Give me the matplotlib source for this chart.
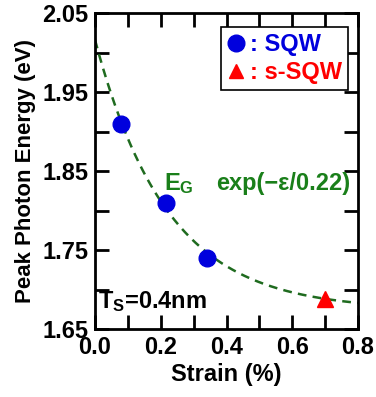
import numpy as np
import matplotlib
matplotlib.use("Agg")
import matplotlib.pyplot as plt
from matplotlib.lines import Line2D

plt.rcParams['font.family'] = ['Liberation Sans', 'DejaVu Sans']
plt.rcParams['font.weight'] = 'bold'
plt.rcParams['mathtext.fontset'] = 'custom'
plt.rcParams['mathtext.rm'] = 'Liberation Sans:bold'
plt.rcParams['mathtext.it'] = 'Liberation Sans:bold'
plt.rcParams['mathtext.bf'] = 'Liberation Sans:bold'

# Measured peak photon energies
sqw_strain = [0.08, 0.215, 0.34]
sqw_energy = [1.91, 1.81, 1.74]
ssqw_strain = [0.70]
ssqw_energy = [1.688]

# Exponential fit E = E0 + dE * exp(-strain / tau)
fit_E0 = 1.674
fit_dE = 0.342
fit_tau = 0.22

x_ticks = [0.0, 0.2, 0.4, 0.6, 0.8]
y_ticks = [1.65, 1.75, 1.85, 1.95, 2.05]

green = '#1f6b1f'
text_green = '#1a7f1a'
blue = '#0000dd'
red = '#ff0000'

fig = plt.figure(figsize=(3.76, 3.97), dpi=100)
ax = fig.add_axes([95/376, 68/397, 263/376, 316/397])

xs = np.linspace(0, 0.8, 200)
ax.plot(xs, fit_E0 + fit_dE * np.exp(-xs / fit_tau), ls=(0, (3.5, 2.5)),
        color=green, lw=1.8, zorder=2)
ax.plot(sqw_strain, sqw_energy, 'o', color=blue, ms=12, zorder=3)
ax.plot(ssqw_strain, ssqw_energy, '^', color=red, ms=11, zorder=3)

ax.set_xlim(0, 0.8)
ax.set_ylim(1.65, 2.05)
ax.set_xticks(x_ticks)
ax.set_xticklabels([f'{v:.1f}' for v in x_ticks])
ax.set_xticks(np.arange(0.1, 0.8, 0.2), minor=True)
ax.set_yticks(y_ticks)
ax.set_yticklabels([f'{v:.2f}' for v in y_ticks])
ax.set_yticks(np.arange(1.70, 2.05, 0.1), minor=True)

ax.tick_params(which='both', direction='in', top=True, right=True,
               width=2, labelsize=17, pad=5)
ax.tick_params(which='major', length=10)
ax.tick_params(which='minor', length=10)
for s in ax.spines.values():
    s.set_linewidth(2)

ax.set_xlabel('Strain (%)', fontsize=17, fontweight='bold', labelpad=3)
ax.set_ylabel('Peak Photon Energy (eV)', fontsize=16, fontweight='bold', labelpad=4)

ax.text(0.21, 1.826, r'E$_\mathregular{G}$', color=text_green, fontsize=17,
        fontweight='bold', ha='left', va='baseline')
ax.text(0.368, 1.826, 'exp(\u2212\u03b5/0.22)', color=text_green, fontsize=17,
        fontweight='bold', ha='left', va='baseline')
ax.text(0.009, 1.677, r'T$_\mathregular{S}$=0.4nm', color='black', fontsize=17,
        fontweight='bold', ha='left', va='baseline')

handles = [Line2D([], [], marker='o', ls='none', color=blue, ms=12),
           Line2D([], [], marker='^', ls='none', color=red, ms=10)]
leg = ax.legend(handles, [': SQW', ': s-SQW'], loc='upper right',
                bbox_to_anchor=(0.962, 0.955), fancybox=False, framealpha=1,
                edgecolor='black', handlelength=0.8,
                handletextpad=0.2, borderpad=0.25, labelspacing=0.2,
                borderaxespad=0,
                prop={'weight': 'bold', 'size': 17})
leg.get_frame().set_linewidth(1.2)
for t, c in zip(leg.get_texts(), [blue, red]):
    t.set_color(c)

fig.savefig('out.png', dpi=100)
